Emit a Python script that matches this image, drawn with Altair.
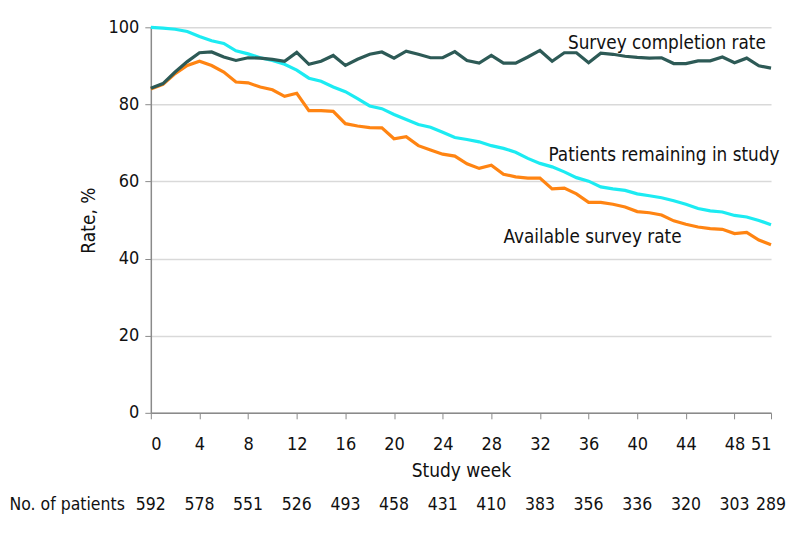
import altair as alt
import pandas as pd

weeks = list(range(52))
remaining = [100, 99.8, 99.5, 98.9, 97.6, 96.5, 95.8, 93.9, 93.1, 92.1, 91.4, 90.4, 88.9, 86.8, 86.0, 84.5,
             83.3, 81.5, 79.6, 78.9, 77.4, 76.1, 74.8, 74.1, 72.8, 71.4, 70.9, 70.3, 69.3, 68.6, 67.6, 66.0,
             64.7, 63.8, 62.5, 61.0, 60.1, 58.6, 58.1, 57.7, 56.8, 56.3, 55.8, 55.0, 54.1, 53.0, 52.4, 52.1,
             51.2, 50.8, 49.9, 48.8]
available = [84.0, 85.2, 88.0, 90.1, 91.2, 90.1, 88.4, 85.8, 85.6, 84.5, 83.8, 82.1, 82.9, 78.4, 78.4, 78.2,
             75.0, 74.4, 74.0, 73.9, 71.1, 71.6, 69.3, 68.2, 67.1, 66.6, 64.6, 63.4, 64.2, 61.9, 61.2, 60.9,
             60.9, 58.1, 58.3, 56.8, 54.6, 54.6, 54.1, 53.4, 52.2, 51.9, 51.3, 49.8, 48.9, 48.2, 47.8, 47.6,
             46.5, 46.8, 44.8, 43.6]
completion = [84.2, 85.4, 88.4, 91.1, 93.4, 93.6, 92.3, 91.4, 92.1, 92.0, 91.7, 91.2, 93.5, 90.4, 91.2, 92.7,
              90.1, 91.7, 93.0, 93.6, 92.0, 93.8, 93.0, 92.1, 92.1, 93.7, 91.4, 90.7, 92.7, 90.7, 90.7, 92.3,
              94.0, 91.2, 93.4, 93.4, 90.8, 93.3, 93.0, 92.5, 92.2, 92.0, 92.1, 90.6, 90.6, 91.3, 91.3, 92.3,
              90.8, 92.0, 90.0, 89.4]

tick_weeks = [0, 4, 8, 12, 16, 20, 24, 28, 32, 36, 40, 44, 48, 51]
patients = [592, 578, 551, 526, 493, 458, 431, 410, 383, 356, 336, 320, 303, 289]

series_names = ["Patients remaining in study", "Available survey rate", "Survey completion rate"]
series_colors = ["#1CEBF2", "#FF8412", "#2D5A56"]

label_text = ["Survey completion rate", "Patients remaining in study", "Available survey rate"]
label_week = [34.3, 32.7, 29.0]
label_rate = [95.9, 66.8, 45.6]

FONT = "DejaVu Sans Condensed, Roboto, sans-serif"

rows = []
for name, vals in zip(series_names, [remaining, available, completion]):
    for w, v in zip(weeks, vals):
        rows.append({"week": w, "rate": v, "series": name})
df = pd.DataFrame(rows)

xscale = alt.Scale(domain=[0, 51], nice=False, zero=False)
yscale = alt.Scale(domain=[0, 100], nice=False)

lines = alt.Chart(df).mark_line(strokeWidth=3.2, strokeJoin="miter").encode(
    x=alt.X("week:Q", scale=xscale,
            axis=alt.Axis(values=tick_weeks, title="Study week", grid=False, tickSize=6,
                          labelPadding=17, titlePadding=8, format="d")),
    y=alt.Y("rate:Q", scale=yscale,
            axis=alt.Axis(values=[0, 20, 40, 60, 80, 100], title="Rate, %", tickSize=6,
                          labelPadding=6, titlePadding=9)),
    color=alt.Color("series:N", scale=alt.Scale(domain=series_names, range=series_colors), legend=None),
    detail="series:N",
)

lab_df = pd.DataFrame({"text": label_text, "week": label_week, "rate": label_rate})
labels = alt.Chart(lab_df).mark_text(align="left", baseline="middle", font=FONT, fontSize=18.8,
                                     color="#111111").encode(
    x=alt.X("week:Q", scale=xscale), y=alt.Y("rate:Q", scale=yscale), text="text:N")

pat_df = pd.DataFrame({"week": tick_weeks, "n": [str(p) for p in patients]})
numbers = alt.Chart(pat_df).mark_text(align="center", baseline="middle", font=FONT, fontSize=17.5,
                                      color="#111111").encode(
    x=alt.X("week:Q", scale=xscale), y=alt.value(478), text="n:N")

row_label = alt.Chart(pd.DataFrame({"t": ["No. of patients"]})).mark_text(
    align="right", baseline="middle", font=FONT, fontSize=17.5, color="#111111").encode(
    x=alt.value(-26), y=alt.value(478), text="t:N")

chart = alt.layer(lines, labels, numbers, row_label).properties(
    width=621, height=386,
    autosize=alt.AutoSizeParams(type="none"),
    padding={"left": 143, "top": 19, "right": 15, "bottom": 118},
).configure_view(stroke=None).configure_axis(
    labelFont=FONT, titleFont=FONT, labelFontSize=18, titleFontSize=19,
    labelColor="#111111", titleColor="#111111", titleFontWeight="normal",
    domainColor="#8a8a8a", tickColor="#8a8a8a", gridColor="#d9d9d9", gridWidth=1.5,
    domainWidth=1.5,
)

chart.save("out.html", embed_options={"renderer": "svg", "actions": False})
